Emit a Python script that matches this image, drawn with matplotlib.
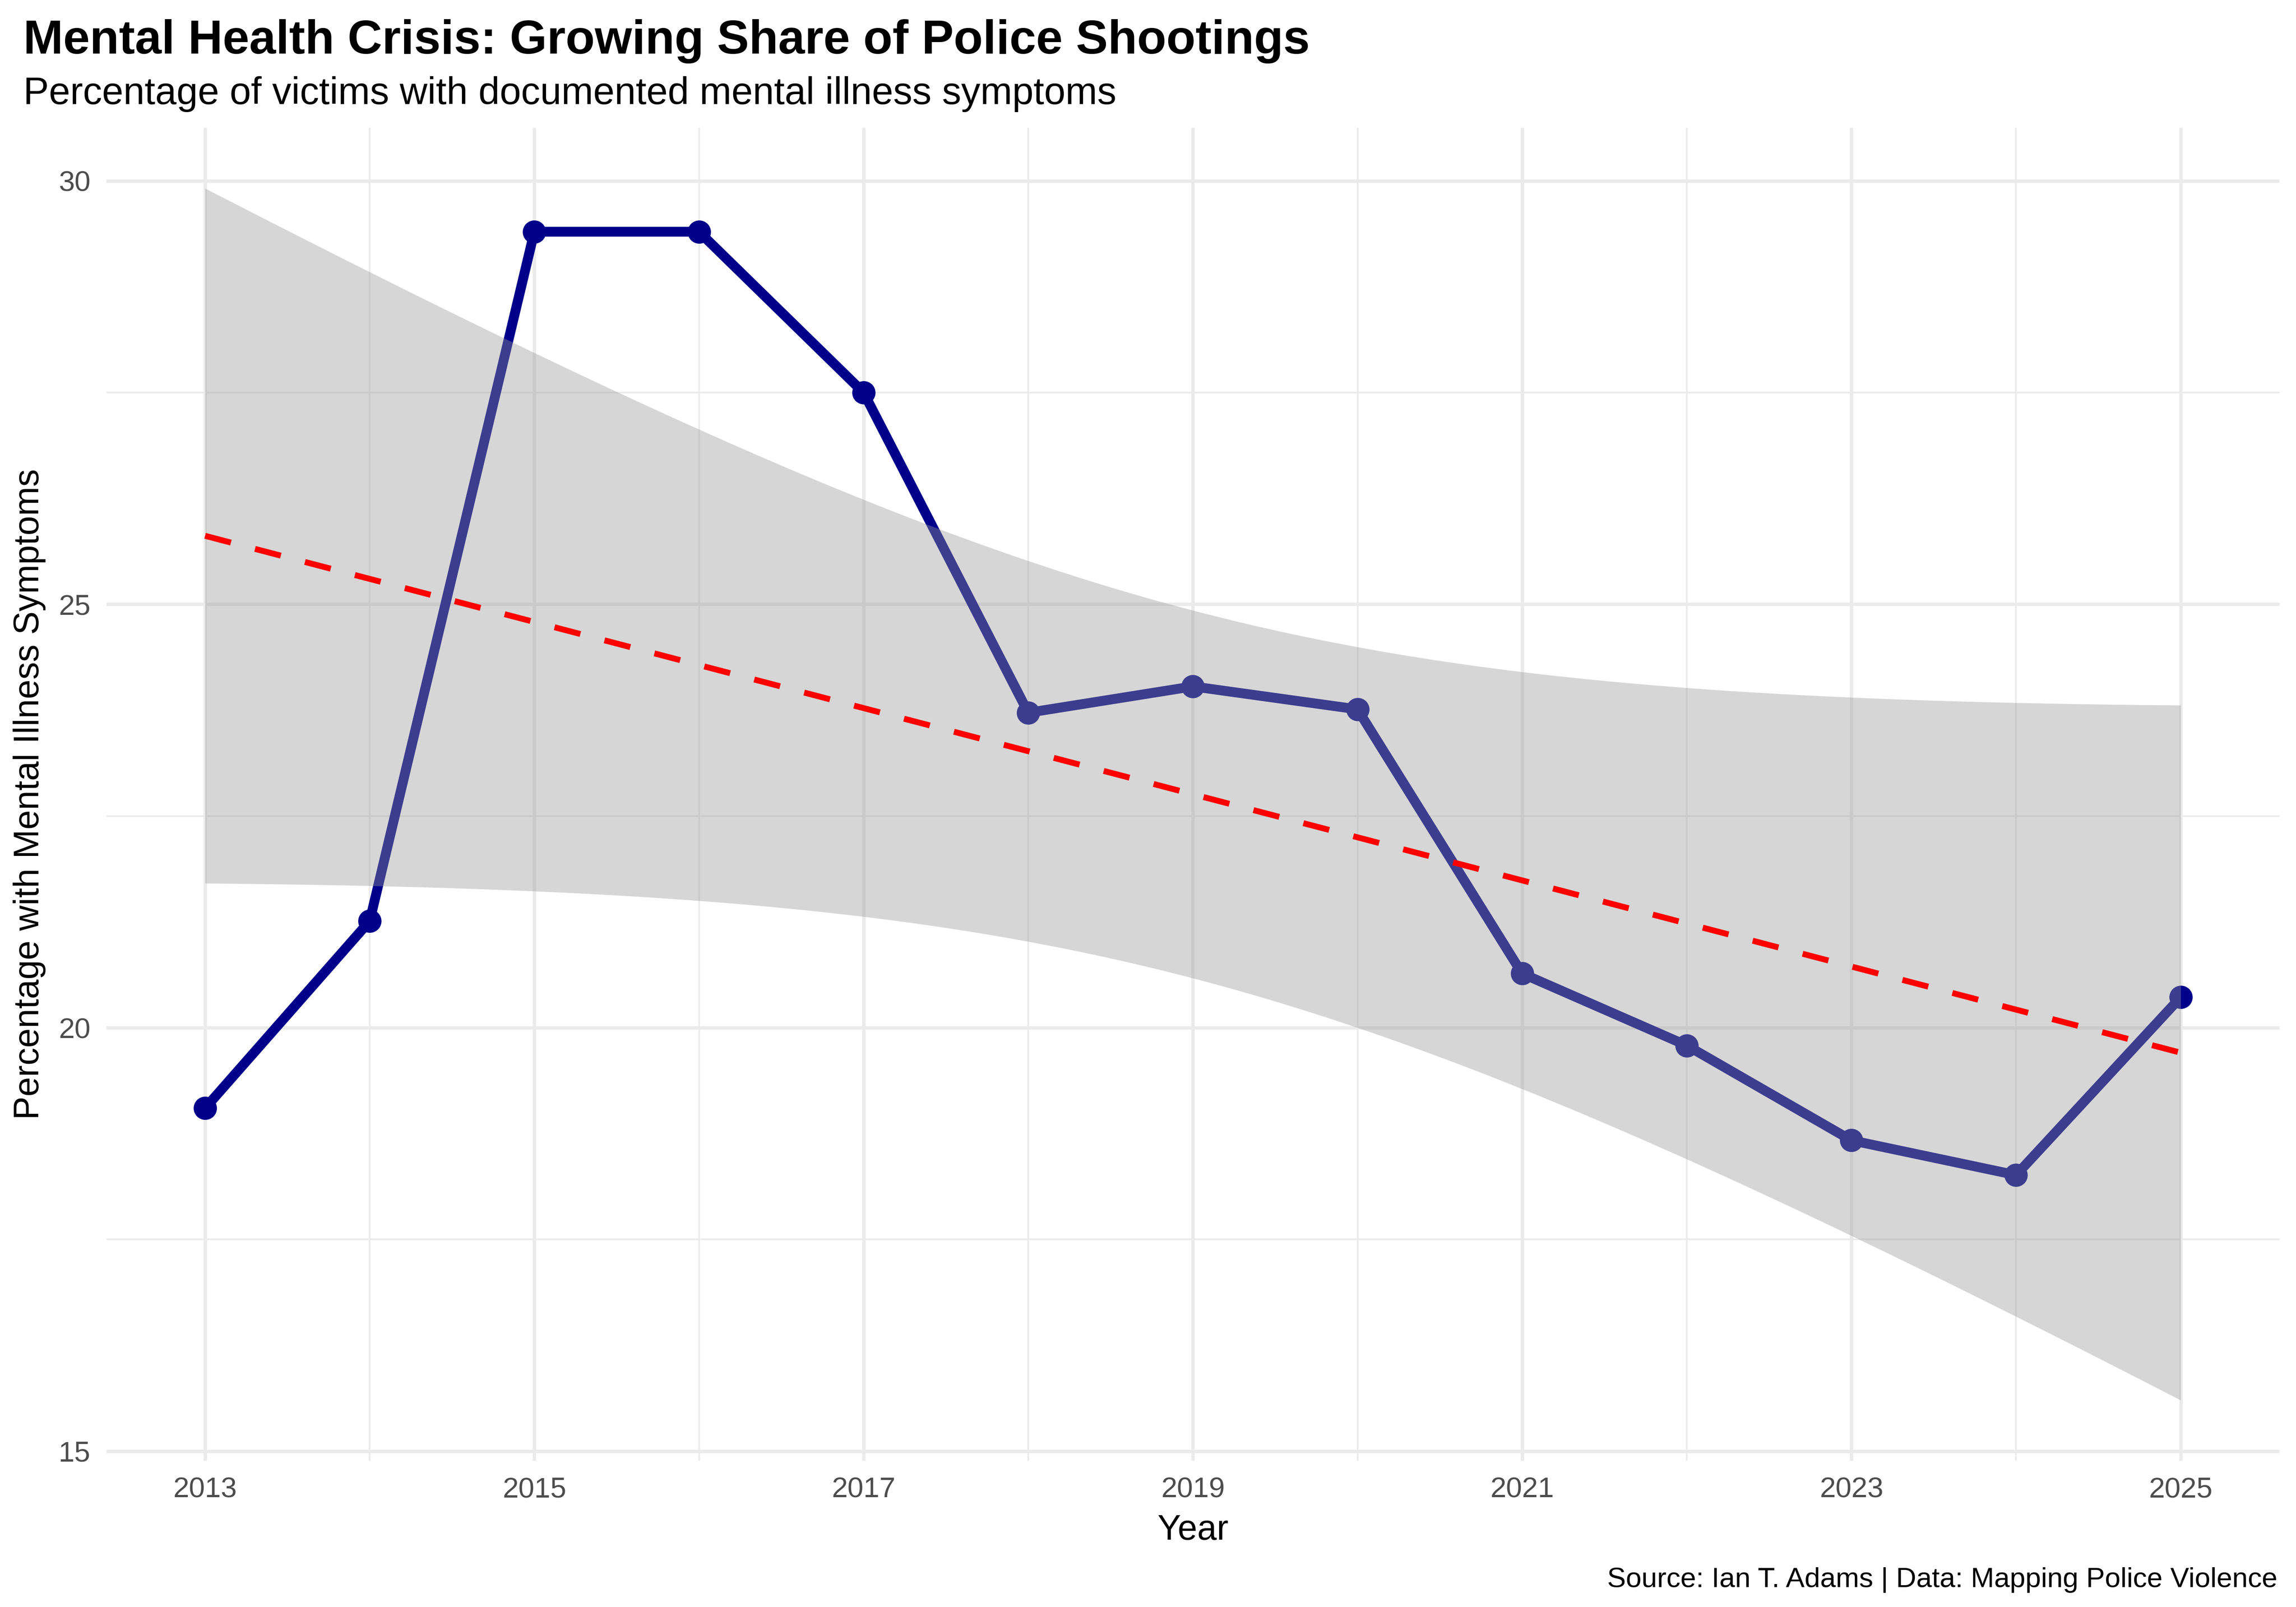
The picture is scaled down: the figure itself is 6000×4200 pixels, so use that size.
import matplotlib.pyplot as plt
import numpy as np

plt.rcParams['font.family'] = ['Liberation Sans', 'DejaVu Sans']

years = np.array([2013, 2014, 2015, 2016, 2017, 2018, 2019, 2020, 2021, 2022, 2023, 2024, 2025])
pct_mental = np.array([19.05, 21.26, 29.40, 29.40, 27.50, 23.72, 24.03, 23.76, 20.64, 19.79, 18.67, 18.26, 20.36])

x_ticks = [2013, 2015, 2017, 2019, 2021, 2023, 2025]
y_ticks = [15, 20, 25, 30]

# linear fit with 95% confidence band (like geom_smooth(method = "lm"))
n = len(years)
slope, intercept = np.polyfit(years, pct_mental, 1)
resid = pct_mental - (slope * years + intercept)
s = np.sqrt(np.sum(resid ** 2) / (n - 2))
xbar = years.mean()
sxx = np.sum((years - xbar) ** 2)
t_crit = 2.200985  # t(0.975, df = 11)
xs = np.linspace(years.min(), years.max(), 80)
fit = slope * xs + intercept
se = s * np.sqrt(1 / n + (xs - xbar) ** 2 / sxx)
lower = fit - t_crit * se
upper = fit + t_crit * se

fig = plt.figure(figsize=(10, 7), dpi=600)
ax = fig.add_axes([0.0463, 0.091, 0.9465, 0.8295])

ax.plot(years, pct_mental, color='#00008B', lw=3.08, zorder=3, solid_joinstyle='round')
ax.plot(years, pct_mental, 'o', color='#00008B', markersize=7.3, markeredgewidth=0, zorder=4)
ax.fill_between(xs, lower, upper, color='#999999', alpha=0.4, linewidth=0, zorder=5)
ax.plot(xs, fit, color='red', lw=1.86, dashes=(4.5, 4.2), zorder=6)

ax.margins(0.05)
ax.set_xticks(x_ticks)
ax.set_xticks(np.arange(2014, 2025, 2), minor=True)
ax.set_yticks(y_ticks)
ax.set_yticks([17.5, 22.5, 27.5], minor=True)
ax.grid(True, which='major', color='#EBEBEB', lw=1.07, zorder=0)
ax.grid(True, which='minor', color='#EBEBEB', lw=0.53, zorder=0)
ax.set_axisbelow(True)
for sp in ax.spines.values():
    sp.set_visible(False)
ax.tick_params(which='both', length=0)
ax.tick_params(axis='both', labelsize=9, labelcolor='#4D4D4D', pad=5)

fig.text(0.5 * (0.0463 + 0.9928), 1 - 4024 / 4200, 'Year', fontsize=11, ha='center', va='baseline')
fig.text(77 / 6000, 0.091 + 0.8295 / 2, 'Percentage with Mental Illness Symptoms', fontsize=11,
         rotation=90, ha='center', va='center')

fig.text(61 / 6000, 1 - 140 / 4200, 'Mental Health Crisis: Growing Share of Police Shootings',
         fontsize=15, fontweight='bold', ha='left', va='baseline')
fig.text(61 / 6000, 1 - 272 / 4200, 'Percentage of victims with documented mental illness symptoms',
         fontsize=12, ha='left', va='baseline')
fig.text(5951 / 6000, 1 - 4148 / 4200, 'Source: Ian T. Adams | Data: Mapping Police Violence',
         fontsize=8.8, ha='right', va='baseline')

fig.savefig('out.png', dpi=600, facecolor='white')
